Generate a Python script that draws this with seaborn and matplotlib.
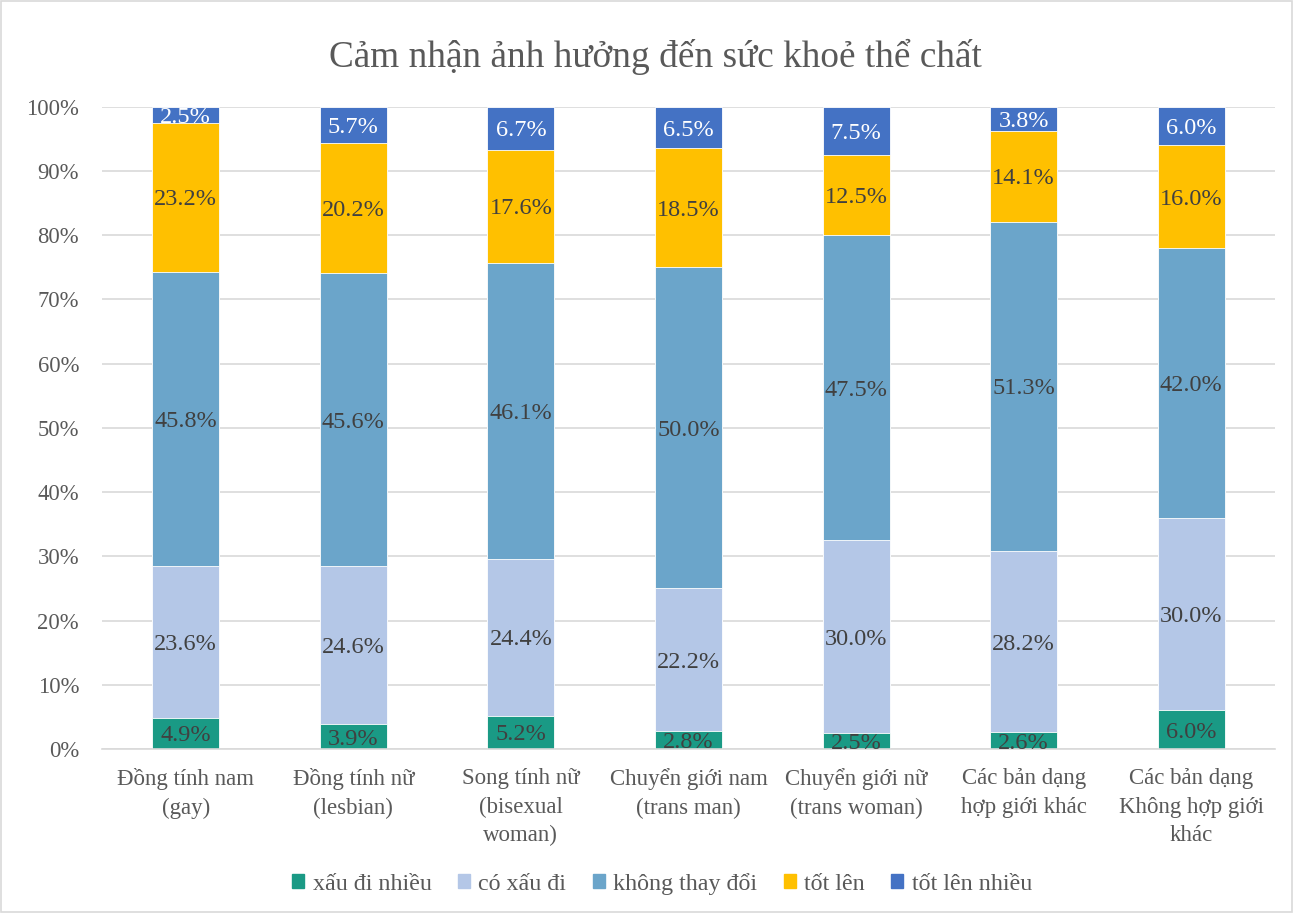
import matplotlib
matplotlib.use("Agg")
import matplotlib.pyplot as plt
import matplotlib.patches as mpatches
import seaborn as sns
import numpy as np
import pandas as pd

categories = ["Đồng tính nam\n(gay)", "Đồng tính nữ\n(lesbian)", "Song tính nữ\n(bisexual\nwoman)",
              "Chuyển giới nam\n(trans man)", "Chuyển giới nữ\n(trans woman)",
              "Các bản dạng\nhợp giới khác", "Các bản dạng\nKhông hợp giới\nkhác"]
series_names = ["xấu đi nhiều", "có xấu đi", "không thay đổi", "tốt lên", "tốt lên nhiều"]
xau_di_nhieu = [4.9, 3.9, 5.2, 2.8, 2.5, 2.6, 6.0]
co_xau_di = [23.6, 24.6, 24.4, 22.2, 30.0, 28.2, 30.0]
khong_thay_doi = [45.8, 45.6, 46.1, 50.0, 47.5, 51.3, 42.0]
tot_len = [23.2, 20.2, 17.6, 18.5, 12.5, 14.1, 16.0]
tot_len_nhieu = [2.5, 5.7, 6.7, 6.5, 7.5, 3.8, 6.0]
yticks = [0, 10, 20, 30, 40, 50, 60, 70, 80, 90, 100]
title = "Cảm nhận ảnh hưởng đến sức khoẻ thể chất"

colors = ["#1a9a85", "#b4c7e7", "#6ba5ca", "#ffc000", "#4472c4"]
label_colors = ["#404040", "#404040", "#404040", "#404040", "#ffffff"]

sns.set_theme(style="white")
plt.rcParams["font.family"] = ["Liberation Serif", "DejaVu Serif"]

values = [xau_di_nhieu, co_xau_di, khong_thay_doi, tot_len, tot_len_nhieu]
arr = np.array(values)
cum = np.cumsum(arr, axis=0)

fig = plt.figure(figsize=(12.93, 9.13), dpi=100)
ax = fig.add_axes([0.0789, 0.1796, 0.986 - 0.0789, 0.8831 - 0.1796])

for i in reversed(range(len(series_names))):
    df = pd.DataFrame({"cat": categories, "val": cum[i]})
    sns.barplot(data=df, x="cat", y="val", color=colors[i], width=0.40, ax=ax,
                order=categories, saturation=1, edgecolor="white", linewidth=0.6)

for i in range(len(series_names)):
    for j in range(len(categories)):
        center = cum[i][j] - arr[i][j] / 2
        ax.text(j, center, f"{arr[i][j]:.1f}%", ha="center", va="center_baseline",
                fontsize=17.5, color=label_colors[i])

ax.set_xlim(-0.5, len(categories) - 0.5)
ax.set_ylim(0, 100)
ax.set_yticks(yticks)
ax.set_yticklabels([f"{t}%" for t in yticks])
ax.set_xlabel("")
ax.set_ylabel("")
ax.yaxis.grid(True, color="#d9d9d9", linewidth=1.2)
ax.set_axisbelow(True)
for s in ["top", "left", "right"]:
    ax.spines[s].set_visible(False)
ax.spines["bottom"].set_color("#d9d9d9")
ax.spines["bottom"].set_linewidth(1.2)
ax.tick_params(axis="y", length=0, pad=16.5, labelsize=16.3, labelcolor="#595959")
ax.tick_params(axis="x", length=0, pad=14, labelsize=16.5, labelcolor="#595959")
for lbl in ax.get_xticklabels():
    lbl.set_linespacing(1.45)

fig.text(0.507, 0.938, title, ha="center", va="center", fontsize=26.8, color="#595959")

handles = [mpatches.Patch(color=colors[i], label=series_names[i]) for i in range(len(series_names))]
fig.legend(handles=handles, loc="center", bbox_to_anchor=(0.512, 0.032), ncol=5, frameon=False,
           fontsize=17.3, handlelength=0.5, handleheight=0.5, handletextpad=0.35, columnspacing=1.1,
           labelcolor="#595959")

fig.patches.append(mpatches.Rectangle((0.001, 0.001), 0.998, 0.998, transform=fig.transFigure,
                                      fill=False, edgecolor="#d9d9d9", linewidth=1.2))

fig.savefig("out.png", dpi=100)
